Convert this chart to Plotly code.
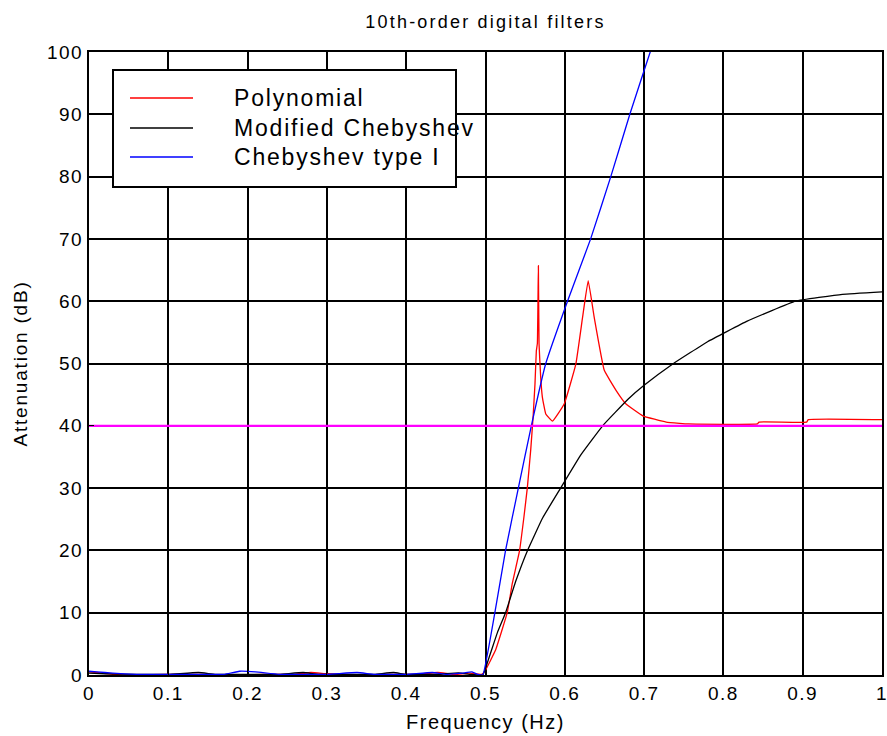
import plotly.graph_objects as go

# ---------------- data ----------------
poly_f = [0.0, 0.01, 0.03, 0.06, 0.1, 0.14, 0.18, 0.22, 0.26, 0.28, 0.3, 0.34, 0.38, 0.41, 0.44, 0.46, 0.48, 0.495,
          0.5, 0.5127, 0.5274, 0.5338, 0.543, 0.5485, 0.5527, 0.557, 0.56, 0.5624, 0.5641, 0.5654, 0.5667, 0.5675,
          0.5696, 0.5717, 0.576, 0.5844, 0.5992, 0.6139, 0.6224, 0.6295, 0.6371, 0.6498, 0.6646, 0.6772, 0.6983,
          0.7278, 0.7447, 0.756, 0.843, 0.845, 0.905, 0.907, 1.0]
poly_db = [0.5, 0.4, 0.1, 0.0, 0.1, 0.1, 0.0, 0.1, 0.1, 0.4, 0.2, 0.0, 0.1, 0.1, 0.4, 0.1, 0.3, 0.1,
           0.8, 4.0, 10.0, 14.7, 20.0, 25.4, 30.0, 36.1, 41.4, 46.7, 52.0, 53.2, 65.7, 53.2,
           47.8, 44.6, 41.9, 40.75, 43.5, 49.9, 57.4, 63.3, 57.4, 48.9, 45.7, 43.5, 41.6,
           40.6, 40.4, 40.3, 40.3, 40.6, 40.6, 41.0, 41.0]

mcheb_f = [0.0, 0.02, 0.06, 0.1, 0.138, 0.16, 0.2, 0.24, 0.27, 0.29, 0.33, 0.36, 0.384, 0.4, 0.44, 0.466, 0.48, 0.4966,
           0.505, 0.515, 0.5253, 0.538, 0.553, 0.572, 0.5947, 0.62, 0.6477, 0.68, 0.7, 0.737, 0.78, 0.83, 0.891,
           0.95, 1.0]
mcheb_db = [0.3, 0.2, 0.1, 0.1, 0.4, 0.1, 0.1, 0.1, 0.4, 0.1, 0.1, 0.1, 0.4, 0.1, 0.1, 0.35, 0.1, 0.0,
            3.0, 6.8, 10.0, 15.0, 20.0, 25.2, 30.0, 35.3, 40.0, 44.3, 46.5, 50.0, 53.5, 56.8, 60.0,
            61.1, 61.5]

cheb1_f = [0.0, 0.01, 0.03, 0.06, 0.1, 0.14, 0.17, 0.19, 0.21, 0.24, 0.3, 0.338, 0.36, 0.4, 0.433, 0.45, 0.47,
           0.483, 0.49, 0.4966, 0.5118, 0.5253, 0.5414, 0.5578, 0.576, 0.6034, 0.6326, 0.658, 0.682, 0.7077, 0.75]
cheb1_db = [0.6, 0.5, 0.3, 0.1, 0.1, 0.1, 0.1, 0.6, 0.5, 0.1, 0.1, 0.4, 0.1, 0.1, 0.4, 0.1, 0.3,
            0.5, 0.1, 0.0, 10.0, 20.0, 30.0, 40.0, 50.0, 60.0, 70.0, 80.0, 90.0, 100.0, 116.0]

spec_f = [0.0, 1.0]
spec_db = [40.0, 40.0]

series_names = ["Polynomial", "Modified Chebyshev", "Chebyshev type I"]
series_colors = ["#FF0000", "#000000", "#0000FF"]

x_ticks = [0, 0.1, 0.2, 0.3, 0.4, 0.5, 0.6, 0.7, 0.8, 0.9, 1]
x_ticklabels = ["0", "0.1", "0.2", "0.3", "0.4", "0.5", "0.6", "0.7", "0.8", "0.9", "1"]
y_ticks = [0, 10, 20, 30, 40, 50, 60, 70, 80, 90, 100]
y_ticklabels = [str(v) for v in y_ticks]

title_text = "10th-order digital filters"
x_title = "Frequency (Hz)"
y_title = "Attenuation (dB)"

FONT = "Liberation Sans, Arial, sans-serif"


def sp(t, ls):
    return '<span style="letter-spacing:%spx">%s</span>' % (ls, t)


# ---------------- figure ----------------
fig = go.Figure()
for f, d, name, col in zip([poly_f, mcheb_f, cheb1_f], [poly_db, mcheb_db, cheb1_db], series_names, series_colors):
    fig.add_trace(go.Scatter(x=f, y=d, mode="lines", name=name, line=dict(color=col, width=1.3, shape="spline",
                                                                          smoothing=0.3),
                             showlegend=False, hoverinfo="skip"))
fig.add_trace(go.Scatter(x=spec_f, y=spec_db, mode="lines", line=dict(color="#FF00FF", width=2.2),
                         showlegend=False, hoverinfo="skip"))

W, H = 887, 736
L, R, T, B = 89, 5, 52, 61
pw, ph = W - L - R, H - T - B


def px(xp):
    return (xp - L) / pw


def py(yp):
    return (H - B - yp) / ph


# manual legend box
shapes = [dict(type="rect", xref="paper", yref="paper", x0=px(113), x1=px(456), y0=py(187), y1=py(70),
               line=dict(color="black", width=2), fillcolor="white", layer="above")]
annots = []
rows = [98, 128, 157]
for name, col, yr in zip(series_names, series_colors, rows):
    shapes.append(dict(type="line", xref="paper", yref="paper", x0=px(130), x1=px(193), y0=py(yr), y1=py(yr),
                       line=dict(color=col, width=1.3), layer="above"))
    annots.append(dict(xref="paper", yref="paper", x=px(232), y=py(yr), xanchor="left", yanchor="middle",
                       text=sp(name, 1.8), showarrow=False, font=dict(family=FONT, size=23, color="black")))

fig.update_layout(
    width=W, height=H,
    margin=dict(l=L, r=R, t=T, b=B),
    paper_bgcolor="white", plot_bgcolor="white",
    font=dict(family=FONT, color="black"),
    title=dict(text=sp(title_text, 2.2), x=0.5, xref="paper", xanchor="center", y=1 - 22 / H, yanchor="middle",
               font=dict(family=FONT, size=18, color="black")),
    shapes=shapes, annotations=annots,
    xaxis=dict(range=[0, 1], tickvals=x_ticks, ticktext=[sp(t, 1.5) for t in x_ticklabels], automargin=False,
               ticklabeloverflow="allow",
               showgrid=True, gridcolor="black", gridwidth=1.5, zeroline=False,
               showline=True, linecolor="black", linewidth=2, mirror=True,
               ticks="inside", ticklen=5, tickcolor="black",
               tickfont=dict(family=FONT, size=19, color="black"),
               title=dict(text=sp(x_title, 1.5), font=dict(family=FONT, size=20, color="black"), standoff=12)),
    yaxis=dict(range=[0, 100], tickvals=y_ticks, ticktext=[sp(t, 1.5) for t in y_ticklabels], automargin=False,
               ticklabeloverflow="allow",
               showgrid=True, gridcolor="black", gridwidth=1.5, zeroline=False,
               showline=True, linecolor="black", linewidth=2, mirror=True,
               ticks="inside", ticklen=5, tickcolor="black",
               tickfont=dict(family=FONT, size=19, color="black"),
               title=dict(text=sp(y_title, 1.8), font=dict(family=FONT, size=19, color="black"), standoff=14)),
)

fig.write_html("out.html")
